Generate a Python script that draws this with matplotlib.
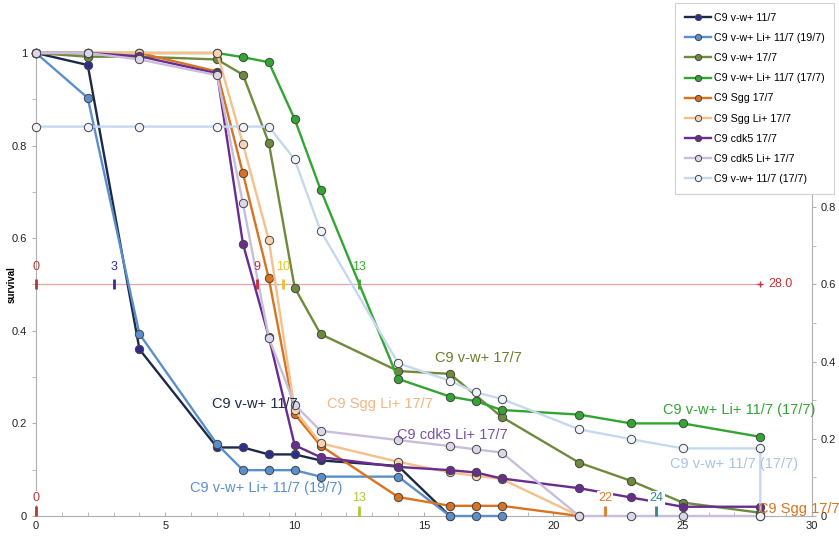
import matplotlib
matplotlib.use("Agg")
import matplotlib.pyplot as plt
from matplotlib.ticker import MultipleLocator

plt.rcParams['font.family'] = ['Liberation Sans', 'DejaVu Sans']

# ---- survival series (day, fraction alive) ----
vw_11_x = [0, 2, 4, 7, 8, 9, 10, 11, 14, 16]
vw_11_y = [1.0, 0.974, 0.36, 0.148, 0.148, 0.133, 0.133, 0.12, 0.108, 0.0]

vwli_11_19_x = [0, 2, 4, 7, 8, 9, 10, 11, 14, 16, 17, 18]
vwli_11_19_y = [1.0, 0.903, 0.393, 0.155, 0.099, 0.099, 0.099, 0.085, 0.085, 0.0, 0.0, 0.0]

vw_17_x = [0, 2, 4, 7, 8, 9, 10, 11, 14, 16, 18, 21, 23, 25, 28]
vw_17_y = [1.0, 0.992, 0.992, 0.986, 0.953, 0.806, 0.493, 0.393, 0.313, 0.307, 0.214,
           0.115, 0.076, 0.029, 0.007]

vwli_11_17_x = [0, 2, 4, 7, 8, 9, 10, 11, 14, 16, 17, 18, 21, 23, 25, 28]
vwli_11_17_y = [1.0, 1.0, 1.0, 1.0, 0.991, 0.98, 0.857, 0.705, 0.296, 0.258, 0.248,
                0.229, 0.219, 0.2, 0.2, 0.171]

sgg_17_x = [0, 2, 4, 7, 8, 9, 10, 11, 14, 16, 17, 18, 21]
sgg_17_y = [1.0, 1.0, 1.0, 0.96, 0.74, 0.513, 0.22, 0.152, 0.041, 0.022, 0.022, 0.022, 0.0]

sggli_17_x = [0, 2, 4, 7, 8, 9, 10, 11, 14, 16, 17, 18, 21]
sggli_17_y = [1.0, 1.0, 1.0, 1.0, 0.803, 0.596, 0.229, 0.157, 0.117, 0.094, 0.087, 0.08, 0.0]

cdk5_17_x = [0, 2, 4, 7, 8, 9, 10, 11, 14, 16, 17, 18, 21, 23, 25, 28]
cdk5_17_y = [1.0, 1.0, 0.993, 0.956, 0.588, 0.387, 0.153, 0.127, 0.106, 0.099, 0.094,
             0.081, 0.06, 0.04, 0.02, 0.02]

cdk5li_17_x = [0, 2, 4, 7, 8, 9, 10, 11, 14, 16, 17, 18, 21, 23, 25, 28]
cdk5li_17_y = [1.0, 1.0, 0.986, 0.952, 0.675, 0.385, 0.24, 0.184, 0.164, 0.151, 0.144,
               0.137, 0.0, 0.0, 0.0, 0.0]

vw_11_17_x = [0, 2, 4, 7, 8, 9, 10, 11, 14, 16, 17, 18, 21, 23, 25, 28, 28]
vw_11_17_y = [0.841, 0.841, 0.841, 0.841, 0.841, 0.841, 0.77, 0.616, 0.33, 0.292, 0.267,
              0.253, 0.187, 0.166, 0.146, 0.146, 0.0]

series_names = ["C9 v-w+ 11/7", "C9 v-w+ Li+ 11/7 (19/7)", "C9 v-w+ 17/7",
                "C9 v-w+ Li+ 11/7 (17/7)", "C9 Sgg 17/7", "C9 Sgg Li+ 17/7",
                "C9 cdk5 17/7", "C9 cdk5 Li+ 17/7", "C9 v-w+ 11/7 (17/7)"]

# ---- median markers ----
median_level = 0.5
median_end = 28.0
med_top_x = [0, 3, 8.53, 9.54, 12.47]
med_top_lbl = ["0", "3", "9", "10", "13"]
med_top_col = ["#b03a3a", "#2f2f9e", "#c0303a", "#e8c22a", "#3aaa35"]
med_bot_x = [0, 12.47, 22.0, 23.98]
med_bot_lbl = ["0", "13", "22", "24"]
med_bot_col = ["#b03a3a", "#b5c832", "#e07b22", "#2a8a8a"]

# line colour, marker face colour
styles = [
    ("#1c2a48", "#2e2e8a"),
    ("#5b8fcc", "#5b8fcc"),
    ("#6e8b3d", "#6e8b3d"),
    ("#33a532", "#33a532"),
    ("#d9731f", "#d9731f"),
    ("#f6bf8c", "#f9d4b4"),
    ("#6a2d8f", "#6a2d8f"),
    ("#c8bedc", "#dcd6ea"),
    ("#c5d8ef", "#eef2f9"),
]
data = [(vw_11_x, vw_11_y), (vwli_11_19_x, vwli_11_19_y), (vw_17_x, vw_17_y),
        (vwli_11_17_x, vwli_11_17_y), (sgg_17_x, sgg_17_y), (sggli_17_x, sggli_17_y),
        (cdk5_17_x, cdk5_17_y), (cdk5li_17_x, cdk5li_17_y), (vw_11_17_x, vw_11_17_y)]

fig = plt.figure(figsize=(8.39, 5.38), dpi=100)
ax = fig.add_axes([0.0429, 0.0409, 0.925, 0.8606])
ax.set_xlim(0, 30)
ax.set_ylim(0, 1)

# median reference line
ax.plot([0, median_end], [median_level, median_level], color="#e6a3a3", lw=0.9, zorder=1)
ax.plot([median_end], [median_level], marker="+", color="#c0303a", ms=5, mew=1, zorder=2)
ax.text(median_end + 0.3, median_level, "28.0", color="#c0303a", fontsize=9,
        va="center", ha="left")

handles = []
for (xs, ys), (lc, fc), name in zip(data, styles, series_names):
    h, = ax.plot(xs, ys, color=lc, lw=1.7, marker="o", ms=6, mfc=fc, mec="#444444",
                 mew=0.7, clip_on=False, label=name, zorder=3)
    handles.append(h)

for x, lbl, c in zip(med_top_x, med_top_lbl, med_top_col):
    ax.plot([x], [median_level], marker="|", ms=7, mew=2, color=c, zorder=4, clip_on=False)
    ax.text(x, 0.538, lbl, color=c, fontsize=9, ha="center", va="center", zorder=5)

for x, lbl, c in zip(med_bot_x, med_bot_lbl, med_bot_col):
    ax.plot([x], [0.01], marker="|", ms=7, mew=2, color=c, zorder=4, clip_on=False)
    ax.text(x, 0.039, lbl, color=c, fontsize=9, ha="center", va="center", zorder=5,
            bbox=dict(facecolor="white", edgecolor="none", pad=1.0))

# series labels on the plot
labels = [
    ("C9 v-w+ 17/7", 17.1, 0.341, "#6e7a2a"),
    ("C9 v-w+ 11/7", 8.45, 0.242, "#1c2a48"),
    ("C9 Sgg Li+ 17/7", 13.3, 0.242, "#f4b483"),
    ("C9 cdk5 Li+ 17/7", 16.1, 0.175, "#7b52a5"),
    ("C9 v-w+ Li+ 11/7 (19/7)", 8.9, 0.06, "#5b8fcc"),
    ("C9 v-w+ Li+ 11/7 (17/7)", 27.2, 0.229, "#33a532"),
    ("C9 v-w+ 11/7 (17/7)", 27.0, 0.112, "#a9c3e6"),
]
for t, x, y, c in labels:
    ax.text(x, y, t, color=c, fontsize=10.5, ha="center", va="center", zorder=6)
ax.text(27.9, 0.016, "C9 Sgg 17/7", color="#d9731f", fontsize=10.5, ha="left",
        va="center", zorder=6, clip_on=False)

# axes styling
ax.spines["top"].set_visible(False)
ax.spines["right"].set_visible(False)
for s in ["left", "bottom"]:
    ax.spines[s].set_color("#b0b0b0")
ax.xaxis.set_major_locator(MultipleLocator(5))
ax.xaxis.set_minor_locator(MultipleLocator(1))
ax.yaxis.set_minor_locator(MultipleLocator(0.1))
ax.set_yticks([0, 0.2, 0.4, 0.6, 0.8, 1.0])
ax.set_yticklabels(["0", "0.2", "0.4", "0.6", "0.8", "1"])
ax.tick_params(axis="both", which="both", colors="#b0b0b0", labelcolor="#222222",
               labelsize=8)
ax.tick_params(axis="x", which="both", direction="in", length=3)
ax.tick_params(axis="y", which="both", direction="out", length=3)
fig.text(12 / 839, 1 - 285 / 538, "survival", fontsize=7, fontweight="bold",
         rotation=90, ha="center", va="center")

ax2 = ax.twinx()
ax2.set_ylim(0, 1.2)
ax2.set_yticks([0, 0.2, 0.4, 0.6, 0.8, 1.0])
ax2.set_yticklabels(["0", "0.2", "0.4", "0.6", "0.8", "1"])
ax2.yaxis.set_minor_locator(MultipleLocator(0.1))
for s in ["top", "left", "bottom"]:
    ax2.spines[s].set_visible(False)
ax2.spines["right"].set_color("#b0b0b0")
ax2.tick_params(axis="y", which="both", colors="#b0b0b0", labelcolor="#222222",
                labelsize=8, length=3, direction="out")
ax2.set_zorder(-1)
ax.patch.set_visible(False)

leg = fig.legend(handles=handles, loc="upper right", bbox_to_anchor=(0.997, 0.998),
                 fontsize=7.7, frameon=True, fancybox=False, framealpha=1.0,
                 labelspacing=0.95, handlelength=2.4, handletextpad=0.3,
                 borderpad=0.9, borderaxespad=0.2, markerscale=0.75)
leg.get_frame().set_edgecolor("#d0d0d0")
leg.get_frame().set_linewidth(0.8)

fig.savefig("out.png", dpi=100)
